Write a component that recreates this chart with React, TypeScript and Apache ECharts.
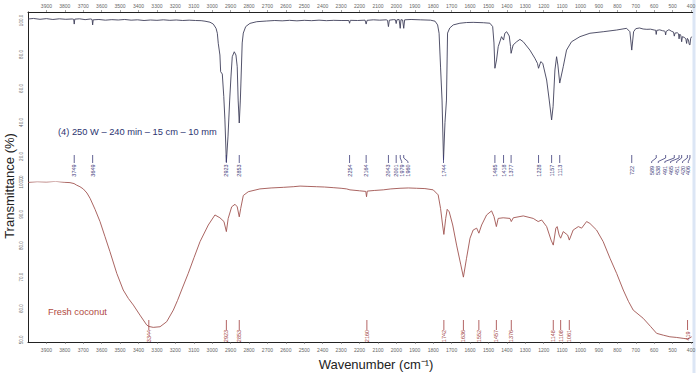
import React, { useEffect, useRef } from "react";
import * as echarts from "echarts";

const FONT = "'Liberation Sans', Arial, sans-serif";

// x-axis tick labels (cm-1)
const xTickValues = [3900, 3800, 3700, 3600, 3500, 3400, 3300, 3200, 3100, 3000, 2900, 2800, 2700, 2600, 2500, 2400, 2300, 2200, 2100, 2000, 1900, 1800, 1700, 1600, 1500, 1400, 1300, 1200, 1100, 1000, 900, 800, 700, 600, 500, 400];
const topYTicks = [7, 20, 40, 60, 80, 100];
const bottomYTicks = [50, 60, 70, 80, 90, 100];

// (4) 250 W – 240 min – 15 cm – 10 mm : [wavenumber, transmittance]
const treatedSpectrum = [
  [4000, 100.9], [3970, 101.2], [3935, 100.7], [3900, 101.1], [3865, 100.6], [3830, 101.0], [3795, 100.7], [3760, 100.9], [3752, 100.7], [3749, 97.9], [3746, 100.8], [3720, 101.0], [3690, 100.5], [3660, 100.9], [3652, 100.6], [3649, 97.4], [3646, 100.4], [3615, 100.6], [3580, 100.2], [3545, 100.5], [3510, 100.3], [3475, 100.6], [3440, 100.2], [3405, 100.4], [3370, 100.0], [3335, 100.3], [3300, 100.1], [3265, 100.4], [3230, 100.1], [3195, 100.3], [3160, 100.0], [3125, 100.2], [3090, 100.0], [3060, 99.9], [3039, 99.6], [3012, 99.0], [2994, 97.9], [2979, 95.4], [2972, 92.5], [2967, 86.6], [2958, 79.7], [2954, 69.9], [2945, 68.5], [2937, 55.2], [2931, 42.0], [2923, 16.8], [2914, 32.0], [2905, 53.2], [2898, 66.8], [2891, 78.7], [2880, 81.6], [2871, 79.7], [2864, 72.8], [2859, 53.2], [2853, 39.7], [2847, 53.2], [2844, 63.2], [2837, 86.8], [2831, 92.6], [2818, 96.4], [2795, 98.3], [2758, 99.3], [2704, 99.7], [2660, 100.0], [2620, 99.8], [2580, 100.1], [2540, 99.8], [2500, 100.1], [2460, 99.9], [2420, 100.2], [2380, 99.9], [2340, 100.1], [2300, 100.0], [2258, 100.0], [2254, 98.4], [2250, 100.1], [2210, 100.0], [2170, 100.2], [2164, 97.9], [2159, 100.1], [2125, 100.4], [2090, 100.2], [2055, 100.4], [2048, 100.1], [2043, 96.4], [2038, 100.2], [2015, 100.5], [2005, 100.4], [2001, 98.2], [1997, 100.4], [1985, 100.6], [1979, 95.4], [1975, 100.5], [1966, 100.3], [1960, 95.4], [1955, 100.4], [1920, 100.6], [1870, 100.4], [1815, 100.2], [1790, 99.6], [1776, 97.4], [1768, 92.5], [1760, 72.6], [1752, 53.2], [1744, 17.9], [1736, 40.0], [1728, 53.2], [1722, 92.6], [1710, 95.6], [1691, 97.4], [1655, 98.4], [1620, 98.8], [1583, 98.9], [1528, 98.7], [1492, 98.4], [1477, 96.4], [1470, 86.8], [1465, 71.9], [1456, 76.8], [1447, 84.6], [1429, 90.5], [1418, 88.5], [1411, 92.5], [1401, 93.4], [1387, 90.9], [1380, 84.6], [1377, 80.7], [1366, 85.6], [1347, 87.5], [1329, 88.9], [1311, 87.5], [1275, 82.6], [1248, 77.8], [1234, 74.8], [1228, 71.9], [1216, 75.8], [1205, 74.8], [1184, 65.0], [1170, 53.2], [1157, 41.5], [1149, 49.3], [1139, 70.9], [1130, 78.7], [1123, 73.8], [1113, 63.2], [1094, 72.8], [1076, 82.6], [1049, 87.5], [1003, 90.5], [949, 92.5], [877, 93.4], [804, 94.4], [750, 95.4], [732, 93.4], [722, 82.6], [712, 93.4], [700, 95.2], [680, 95.6], [660, 95.0], [640, 94.8], [620, 94.9], [600, 94.4], [592, 94.3], [589, 91.8], [586, 94.2], [570, 94.5], [555, 94.0], [545, 93.8], [541, 93.5], [538, 91.5], [535, 93.6], [520, 94.6], [505, 93.6], [495, 93.2], [491, 90.8], [487, 92.6], [475, 92.8], [468, 92.2], [465, 89.2], [461, 92.0], [455, 91.0], [451, 87.5], [447, 90.5], [435, 90.0], [428, 89.0], [424, 86.5], [420, 89.5], [414, 88.5], [410, 86.0], [406, 85.6], [402, 89.5], [397, 90.5]
];

// Fresh coconut : [wavenumber, transmittance]
const freshSpectrum = [
  [4000, 100.2], [3950, 100.4], [3900, 100.3], [3850, 100.5], [3800, 100.2], [3772, 100.1], [3750, 99.8], [3736, 99.3], [3718, 98.8], [3700, 98.1], [3680, 96.8], [3663, 95.1], [3636, 91.6], [3609, 87.7], [3582, 82.9], [3555, 78.1], [3518, 71.2], [3483, 65.9], [3455, 63.2], [3428, 61.1], [3392, 57.9], [3356, 54.8], [3344, 54.3], [3320, 54.0], [3283, 54.2], [3247, 55.8], [3211, 59.5], [3188, 62.6], [3166, 65.9], [3130, 71.2], [3098, 76.3], [3066, 81.3], [3021, 86.6], [2985, 89.8], [2958, 88.9], [2936, 87.7], [2923, 84.5], [2913, 88.7], [2894, 92.4], [2876, 93.2], [2864, 92.4], [2853, 89.2], [2845, 91.9], [2831, 96.0], [2804, 97.2], [2741, 98.1], [2680, 98.4], [2614, 98.6], [2560, 98.8], [2523, 99.0], [2480, 98.9], [2433, 98.8], [2390, 98.7], [2343, 98.5], [2300, 98.3], [2270, 98.1], [2252, 97.8], [2200, 97.5], [2166, 97.3], [2162, 95.6], [2158, 97.4], [2120, 97.6], [2071, 97.8], [2030, 98.1], [1980, 98.3], [1935, 98.4], [1890, 98.3], [1845, 98.2], [1800, 97.8], [1773, 96.2], [1760, 91.9], [1749, 86.6], [1742, 83.6], [1732, 88.7], [1724, 91.6], [1713, 90.8], [1694, 86.6], [1673, 80.2], [1650, 73.9], [1636, 70.0], [1619, 76.0], [1600, 82.4], [1583, 85.0], [1564, 85.6], [1552, 84.0], [1537, 86.6], [1510, 89.8], [1483, 91.1], [1470, 89.3], [1457, 86.1], [1447, 88.7], [1420, 88.9], [1383, 88.7], [1376, 87.7], [1365, 88.9], [1311, 89.5], [1257, 88.7], [1230, 87.7], [1211, 88.2], [1184, 86.1], [1160, 81.8], [1148, 80.2], [1134, 85.6], [1127, 86.1], [1116, 83.4], [1108, 82.4], [1094, 84.5], [1070, 83.4], [1061, 81.8], [1040, 85.0], [1012, 86.1], [994, 85.6], [967, 87.7], [949, 87.1], [913, 85.0], [877, 81.3], [840, 76.0], [804, 71.2], [768, 65.9], [740, 62.3], [714, 59.5], [660, 56.9], [620, 54.3], [587, 52.1], [550, 51.5], [515, 51.0], [480, 50.8], [443, 50.5], [419, 50.3], [397, 51.0]
];

// peak annotations: peak wavenumber and where its label text sits
const treatedPeaks = [3749, 3649, 2923, 2853, 2254, 2164, 2043, 2001, 1979, 1960, 1744, 1465, 1418, 1377, 1228, 1157, 1113, 722, 589, 538, 491, 465, 451, 420, 406];
const treatedPeakLabelAt = [3749, 3649, 2923, 2853, 2254, 2164, 2043, 2001, 1971, 1937, 1744, 1465, 1418, 1377, 1228, 1157, 1113, 722, 614, 578, 542, 511, 478, 446, 415];
const freshPeaks = [3344, 2923, 2853, 2160, 1742, 1636, 1552, 1457, 1376, 1148, 1108, 1061, 419];

function peakSeries(peaks: number[], labelAt: number[], gridIdx: number, color: string, off: { top: number; bend: number; end: number; text: number }, yMid: number) {
  return {
    type: "custom",
    xAxisIndex: gridIdx,
    yAxisIndex: gridIdx,
    silent: true,
    z: 5,
    encode: { x: [0, 1] },
    data: peaks.map((p, i) => [p, labelAt[i]]),
    renderItem: (params: any, api: any) => {
      const cs = params.coordSys;
      const bottom = cs.y + cs.height;
      const px = api.coord([api.value(0), yMid])[0];
      const lx = api.coord([api.value(1), yMid])[0];
      const pts = Math.abs(px - lx) < 0.5
        ? [[px, bottom - off.top], [px, bottom - off.end]]
        : [[px, bottom - off.top], [px, bottom - off.bend], [lx, bottom - off.end - 1.5], [lx, bottom - off.end]];
      return {
        type: "group",
        children: [
          { type: "polyline", shape: { points: pts }, style: { stroke: color, lineWidth: 0.8, fill: null } },
          {
            type: "text",
            x: lx,
            y: bottom - off.text,
            rotation: Math.PI / 2,
            style: { text: String(peaks[params.dataIndex]), fontSize: 5.5, fill: color, align: "center", verticalAlign: "middle", fontFamily: FONT },
          },
        ],
      };
    },
  };
}

function xAxisCfg(gridIndex: number, position: string, margin: number) {
  return {
    gridIndex,
    type: "value",
    position,
    min: 391,
    max: 4000,
    inverse: true,
    axisLine: { show: true, onZero: false, lineStyle: { color: "#222", width: 1 } },
    axisTick: { show: true, length: 2, customValues: xTickValues, lineStyle: { color: "#666", width: 0.6 } },
    axisLabel: { customValues: xTickValues, fontSize: 5, color: "#666", margin, fontFamily: FONT, formatter: (v: number) => String(v) },
    splitLine: { show: false },
  };
}

function yAxisCfg(gridIndex: number, min: number, max: number, ticks: number[]) {
  return {
    gridIndex,
    type: "value",
    min,
    max,
    axisLine: { show: true, onZero: false, lineStyle: { color: "#222", width: 1 } },
    axisTick: { show: false },
    axisLabel: { customValues: ticks, rotate: 90, fontSize: 4.5, color: "#666", margin: 4, fontFamily: FONT, formatter: (v: number) => v.toFixed(1) },
    splitLine: { show: false },
  };
}

export default function App() {
  const ref = useRef<HTMLDivElement>(null);
  useEffect(() => {
    if (!ref.current) return;
    const chart = echarts.init(ref.current, undefined, { renderer: "svg" });
    chart.setOption({
      animation: false,
      backgroundColor: "#ffffff",
      grid: [
        { left: 28, right: 7.3, top: 12, height: 170 },
        { left: 28, right: 7.3, top: 182, height: 160 },
      ],
      xAxis: [xAxisCfg(0, "top", 4), xAxisCfg(1, "bottom", 5)],
      yAxis: [yAxisCfg(0, 5, 105, topYTicks), yAxisCfg(1, 49.34, 100.3, bottomYTicks)],
      series: [
        {
          type: "line",
          xAxisIndex: 0,
          yAxisIndex: 0,
          data: treatedSpectrum,
          symbol: "none",
          lineStyle: { color: "#40405a", width: 0.9 },
          z: 3,
        },
        {
          type: "line",
          xAxisIndex: 1,
          yAxisIndex: 1,
          data: freshSpectrum,
          symbol: "none",
          lineStyle: { color: "#a05450", width: 0.9 },
          z: 3,
        },
        peakSeries(treatedPeaks, treatedPeakLabelAt, 0, "#3b3b78", { top: 27, bend: 24, end: 19, text: 11.5 }, 50),
        peakSeries(freshPeaks, freshPeaks, 1, "#a03c3c", { top: 22, bend: 19, end: 12, text: 6 }, 75),
      ],
      graphic: [
        { type: "rect", silent: true, shape: { x: 692.5, y: 0, width: 3, height: 373 }, style: { fill: "#dce6f5" } },
        {
          type: "text",
          x: 9,
          y: 186,
          rotation: Math.PI / 2,
          style: { text: "Transmittance (%)", fontSize: 13, fill: "#222", align: "center", verticalAlign: "middle", fontFamily: FONT },
        },
        {
          type: "text",
          x: 376,
          y: 364,
          style: { text: "Wavenumber (cm\u207B\u00B9)", fontSize: 13, fill: "#222", align: "center", verticalAlign: "middle", fontFamily: FONT },
        },
        {
          type: "text",
          x: 58,
          y: 132,
          style: { text: "(4) 250 W \u2013 240 min \u2013 15 cm \u2013 10 mm", fontSize: 9.3, fill: "#2b3370", align: "left", verticalAlign: "middle", fontFamily: FONT },
        },
        {
          type: "text",
          x: 48,
          y: 312,
          style: { text: "Fresh coconut", fontSize: 9.3, fill: "#b04a3f", align: "left", verticalAlign: "middle", fontFamily: FONT },
        },
      ],
    });
    return () => chart.dispose();
  }, []);
  return <div ref={ref} style={{ position: "absolute", left: 0, top: 0, width: 700, height: 373 }} />;
}
